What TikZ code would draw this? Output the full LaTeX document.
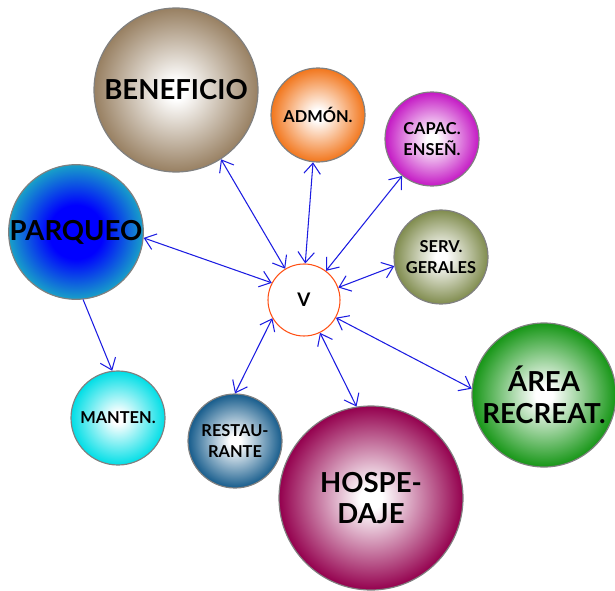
\documentclass[tikz,border=0pt]{standalone}
\usepackage{fontspec}
\setmainfont{Lato}
\usetikzlibrary{arrows.meta}
\definecolor{benefcol}{RGB}{152,128,98}
\definecolor{admoncol}{RGB}{242,118,28}
\definecolor{capaccol}{RGB}{196,24,196}
\definecolor{servcol}{RGB}{128,140,78}
\definecolor{parqcol}{RGB}{24,160,200}
\definecolor{mantencol}{RGB}{0,222,230}
\definecolor{restaucol}{RGB}{22,92,140}
\definecolor{hospcol}{RGB}{148,0,78}
\definecolor{areacol}{RGB}{22,150,22}
\definecolor{vcol}{RGB}{255,80,20}
\definecolor{linkcol}{RGB}{28,28,225}
\colorlet{orbin}{white}
\colorlet{orbout}{gray}
\pgfdeclareradialshading[orbin,orbout]{orb}{\pgfpoint{0bp}{0bp}}{%
  color(0bp)=(orbin); color(3bp)=(orbin); color(25bp)=(orbout); color(50bp)=(orbout)}
\pgfdeclareradialshading[orbin,orbout]{orbdeep}{\pgfpoint{0bp}{0bp}}{%
  color(0bp)=(orbin); color(10bp)=(orbin); color(25bp)=(orbout); color(50bp)=(orbout)}
\tikzset{
  orb/.style      = {circle, draw=black!50, line width=1pt, inner sep=0pt,
                     align=center, text=black,
                     /utils/exec={\colorlet{orbin}{white}\colorlet{orbout}{#1}},
                     shading=orb},
  deeporb/.style  = {circle, draw=black!50, line width=1pt, inner sep=0pt,
                     align=center, text=black,
                     /utils/exec={\colorlet{orbin}{blue}\colorlet{orbout}{#1}},
                     shading=orbdeep},
  hub/.style      = {circle, draw=vcol, line width=0.9pt, fill=white,
                     inner sep=0pt, minimum size=2.16cm,
                     font=\fontsize{16}{19}\selectfont\bfseries},
  bigtxt/.style   = {font=\fontsize{23.5}{27}\selectfont\bfseries},
  smalltxt/.style = {font=\fontsize{14}{18}\selectfont\bfseries,
                     minimum size=2.82cm},
  link/.style     = {{Straight Barb[length=9pt,width=14pt]}-{Straight Barb[length=9pt,width=14pt]},
                     line width=0.9pt, linkcol},
  onelink/.style  = {-{Straight Barb[length=9pt,width=14pt]},
                     line width=0.9pt, linkcol},
}

\begin{document}
\begin{tikzpicture}[x=0.03cm, y=-0.03cm]
\useasboundingbox (0,0) rectangle (615,591);

% ===== centre =====
\node[hub] (v) at (304,300) {V};

% ===== surrounding areas =====
\node[orb=benefcol, bigtxt, minimum size=4.92cm]  (benef)  at (176,90)  {BENEFICIO};
\node[deeporb=parqcol, bigtxt, minimum size=4.02cm] (parq) at (76,232)  {PARQUEO};
\node[orb=admoncol, smalltxt]                     (admon)  at (318,115) {ADMÓN.};
\node[orb=capaccol, smalltxt]                     (capac)  at (432,139) {CAPAC.\\ENSEÑ.};
\node[orb=servcol, smalltxt]                      (serv)   at (441,257) {SERV.\\GERALES};
\node[orb=mantencol, smalltxt]                    (manten) at (118,418) {MANTEN.};
\node[orb=restaucol, smalltxt]                    (restau) at (235,441) {RESTAU-\\RANTE};
\node[orb=hospcol, bigtxt, minimum size=5.52cm]   (hosp)   at (371,498) {HOSPE-\\DAJE};
\node[orb=areacol, bigtxt, minimum size=4.32cm]   (area)   at (544,395) {ÁREA\\RECREAT.};

% ===== connectors =====
\draw[link] (benef.-57) -- (v.121);
\draw[link] (admon.-96) -- (v.88);
\draw[link] (capac.231) -- (v.53);
\draw[link] (serv.191)  -- (v.20);
\draw[link] (parq.-5)   -- (v.152);
\draw[link] (restau.90) -- (v.210);
\draw[link] (hosp.99)   -- (v.-64);
\draw[link] (area.175)  -- (v.-29);
\draw[onelink] (parq.-84) -- (manten.97);

\end{tikzpicture}
\end{document}
